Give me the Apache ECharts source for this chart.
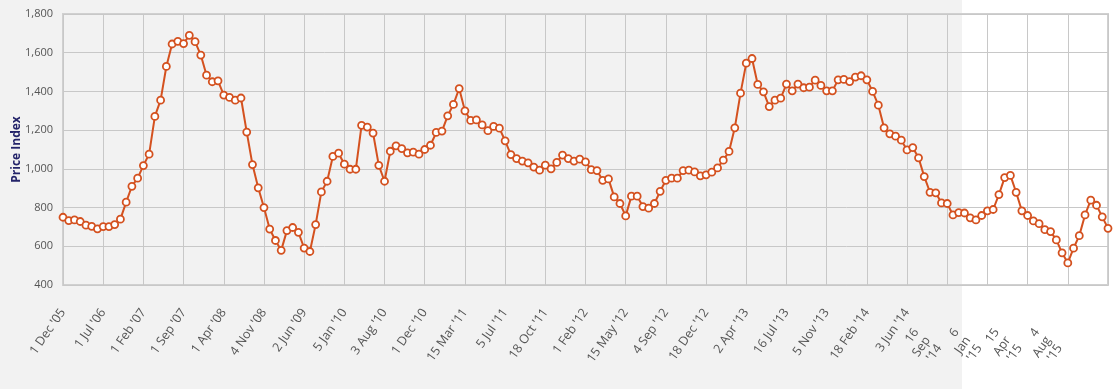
<!DOCTYPE html>
<html>
<head>
<meta charset="utf-8">
<script src="https://cdn.jsdelivr.net/npm/echarts@6/dist/echarts.min.js"></script>
<style>
html,body{margin:0;padding:0;}
#chart{width:1120px;height:389px;background:linear-gradient(to right,#f2f2f2 0,#f2f2f2 962px,#ffffff 962px,#ffffff 100%);}
</style>
</head>
<body>
<div id="chart"></div>
<script>
const categories = [
"1 Dec '05","1 Jan '06","1 Feb '06","1 Mar '06","1 Apr '06","1 May '06","1 Jun '06","1 Jul '06","1 Aug '06","1 Sep '06",
"1 Oct '06","1 Nov '06","1 Dec '06","1 Jan '07","1 Feb '07","1 Mar '07","1 Apr '07","1 May '07","1 Jun '07","1 Jul '07",
"1 Aug '07","1 Sep '07","1 Oct '07","1 Nov '07","1 Dec '07","1 Jan '08","1 Feb '08","1 Mar '08","1 Apr '08","6 May '08",
"3 Jun '08","1 Jul '08","5 Aug '08","2 Sep '08","7 Oct '08","4 Nov '08","2 Dec '08","6 Jan '09","3 Feb '09","3 Mar '09",
"7 Apr '09","5 May '09","2 Jun '09","7 Jul '09","4 Aug '09","1 Sep '09","6 Oct '09","3 Nov '09","1 Dec '09","5 Jan '10",
"2 Feb '10","2 Mar '10","6 Apr '10","4 May '10","1 Jun '10","6 Jul '10","3 Aug '10","17 Aug '10","7 Sep '10","21 Sep '10",
"5 Oct '10","2 Nov '10","16 Nov '10","1 Dec '10","14 Dec '10","4 Jan '11","18 Jan '11","1 Feb '11","15 Feb '11","1 Mar '11",
"15 Mar '11","29 Mar '11","12 Apr '11","3 May '11","17 May '11","7 Jun '11","21 Jun '11","5 Jul '11","19 Jul '11","2 Aug '11",
"16 Aug '11","6 Sep '11","20 Sep '11","4 Oct '11","18 Oct '11","1 Nov '11","15 Nov '11","6 Dec '11","20 Dec '11","3 Jan '12",
"17 Jan '12","1 Feb '12","14 Feb '12","28 Feb '12","13 Mar '12","3 Apr '12","17 Apr '12","1 May '12","15 May '12","5 Jun '12",
"19 Jun '12","3 Jul '12","17 Jul '12","7 Aug '12","21 Aug '12","4 Sep '12","18 Sep '12","2 Oct '12","16 Oct '12","6 Nov '12",
"20 Nov '12","4 Dec '12","18 Dec '12","8 Jan '13","22 Jan '13","5 Feb '13","19 Feb '13","5 Mar '13","19 Mar '13","2 Apr '13",
"16 Apr '13","7 May '13","21 May '13","4 Jun '13","18 Jun '13","2 Jul '13","16 Jul '13","6 Aug '13","20 Aug '13","3 Sep '13",
"17 Sep '13","8 Oct '13","22 Oct '13","5 Nov '13","19 Nov '13","3 Dec '13","17 Dec '13","7 Jan '14","21 Jan '14","4 Feb '14",
"18 Feb '14","4 Mar '14","18 Mar '14","1 Apr '14","15 Apr '14","6 May '14","20 May '14","3 Jun '14","17 Jun '14","1 Jul '14",
"15 Jul '14","5 Aug '14","19 Aug '14","2 Sep '14","16 Sep '14","7 Oct '14","21 Oct '14","4 Nov '14","18 Nov '14","2 Dec '14",
"16 Dec '14","6 Jan '15","20 Jan '15","3 Feb '15","17 Feb '15","3 Mar '15","17 Mar '15","1 Apr '15","15 Apr '15","5 May '15",
"19 May '15","2 Jun '15","16 Jun '15","7 Jul '15","21 Jul '15","4 Aug '15","18 Aug '15","1 Sep '15","15 Sep '15","6 Oct '15",
"20 Oct '15","3 Nov '15","17 Nov '15"
];
const priceIndex = [
750,733,736,728,709,703,690,702,702,712,
740,828,910,952,1017,1076,1271,1355,1529,1645,
1659,1647,1690,1657,1588,1484,1450,1455,1381,1369,
1355,1366,1190,1022,902,800,689,630,579,681,
697,672,591,573,712,881,936,1064,1081,1024,
998,998,1225,1216,1185,1018,936,1091,1119,1105,
1083,1086,1076,1100,1122,1188,1195,1274,1333,1415,
1300,1250,1253,1227,1197,1219,1210,1145,1074,1053,
1040,1031,1009,993,1019,1000,1033,1071,1053,1040,
1050,1036,996,991,941,948,855,821,757,859,
859,805,797,821,884,941,952,952,991,993,
984,964,969,983,1005,1045,1090,1212,1391,1546,
1570,1436,1398,1322,1355,1365,1438,1403,1438,1419,
1422,1458,1431,1403,1403,1460,1462,1451,1474,1481,
1460,1400,1329,1212,1181,1169,1148,1098,1110,1057,
960,879,876,824,821,762,774,772,747,736,
759,783,790,867,955,966,879,783,759,731,
717,686,676,633,566,514,590,655,762,838,
812,752,693
];
const yMin = 400, yMax = 1800, yStep = 200;
const labelStep = 7;
const wrapFromIndex = 154;
const yTitle = 'Price Index';

const chart = echarts.init(document.getElementById('chart'));
chart.setOption({
  backgroundColor: 'transparent',
  animation: false,
  textStyle: { fontFamily: 'Open Sans' },
  grid: { left: 63, right: 12, top: 14, bottom: 104, show: true, borderColor: '#d0d0d0', borderWidth: 2, outerBoundsMode: 'none' },
  xAxis: {
    type: 'category',
    data: categories,
    boundaryGap: false,
    axisLine: { show: false },
    axisTick: { show: false },
    splitLine: { show: true, interval: function (i) { return i % labelStep === 0; }, lineStyle: { color: '#c8c8c8', width: 1 } },
    axisLabel: {
      interval: function (i) { return i % labelStep === 0; },
      showMaxLabel: false,
      hideOverlap: false,
      rotate: 55,
      margin: 25,
      fontSize: 12.5,
      color: '#555',
      lineHeight: 14,
      formatter: function (v, i) {
        if (i >= wrapFromIndex) {
          return v.split(' ').map(function (w) { return '{w|' + w + '}'; }).join('\n');
        }
        return v;
      },
      rich: {
        w: { fontSize: 12.5, color: '#555', lineHeight: 14, padding: [0, 34, 0, 0], fontFamily: 'Open Sans' }
      }
    }
  },
  yAxis: {
    type: 'value',
    min: yMin, max: yMax, interval: yStep,
    name: yTitle,
    nameLocation: 'middle',
    nameRotate: 90,
    nameGap: 40,
    nameMoveOverlap: false,
    nameTextStyle: { color: '#24246a', fontWeight: 'bold', fontSize: 12, fontFamily: 'Open Sans' },
    axisLine: { show: false },
    axisTick: { show: false },
    splitLine: { lineStyle: { color: '#c8c8c8', width: 1 } },
    axisLabel: {
      margin: 10, fontSize: 11, color: '#555',
      formatter: function (v) { return v.toLocaleString('en-US'); }
    }
  },
  series: [{
    type: 'line',
    data: priceIndex,
    symbol: 'circle',
    symbolSize: 7,
    showAllSymbol: true,
    lineStyle: { color: '#d4511f', width: 2 },
    itemStyle: { color: '#ffffff', borderColor: '#d4511f', borderWidth: 1.8 }
  }]
});
</script>
</body>
</html>
